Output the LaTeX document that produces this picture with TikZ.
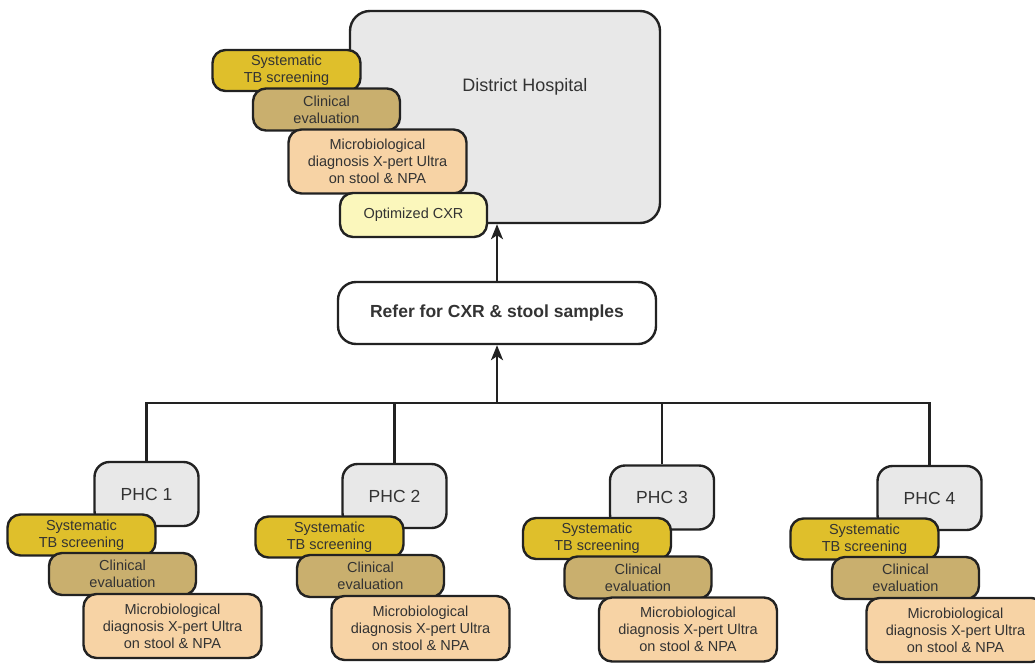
\documentclass[tikz,border=0pt]{standalone}
\usepackage{fontspec}
\setmainfont{Liberation Sans}
\usetikzlibrary{positioning,arrows.meta}

\definecolor{sitegray}{HTML}{E8E8E8}
\definecolor{screengold}{HTML}{DFBF2B}
\definecolor{clintan}{HTML}{C9AF6E}
\definecolor{micropeach}{HTML}{F7D3A5}
\definecolor{cxryellow}{HTML}{FBF7BC}
\definecolor{edgedark}{HTML}{222222}
\definecolor{txtdark}{HTML}{333333}

\tikzset{
  box/.style={draw=edgedark, line width=2.4pt, text=txtdark, align=center, inner sep=2pt},
  sitebox/.style={box, fill=sitegray, rounded corners=15pt, font=\fontsize{17.5}{20}\selectfont},
  smallbox/.style={box, rounded corners=13pt, font=\fontsize{14.5}{17}\selectfont},
  screenbox/.style={smallbox, fill=screengold, minimum width=148pt, minimum height=41pt},
  clinbox/.style={smallbox, fill=clintan, minimum width=147pt, minimum height=42pt},
  microbox/.style={smallbox, fill=micropeach, minimum width=178pt, minimum height=64pt},
  cxrbox/.style={smallbox, fill=cxryellow, minimum width=147pt, minimum height=44pt},
  referbox/.style={box, fill=white, rounded corners=18pt, minimum width=318pt, minimum height=62pt, font=\fontsize{17.5}{20}\selectfont\bfseries},
  link/.style={draw=edgedark, line width=2.3pt},
  uparrow/.style={link, -{Stealth[length=15pt, width=12pt, inset=4pt]}},
}

\begin{document}
\begin{tikzpicture}[x=1pt, y=-1pt, on grid]

        \useasboundingbox (0,0) rectangle (1035,664);

        % District hospital and its services
        \node[sitebox, minimum width=310pt, minimum height=212pt, rounded corners=20pt,
              label={[text=txtdark, font=\fontsize{18}{20}\selectfont, xshift=20pt, yshift=30pt]center:District Hospital}]
              (DH) at (505,117) {};
        \node[screenbox] (DHscreen) [above left=46.5pt and 218.5pt of DH] {Systematic\\TB screening};
        \node[clinbox] (DHclin) [above left=7.5pt and 178.5pt of DH] {Clinical\\evaluation};
        \node[microbox] (DHmicro) [below left=44.5pt and 127.5pt of DH] {Microbiological\\diagnosis X-pert Ultra\\on stool \& NPA};
        \node[cxrbox] (DHcxr) [below left=98pt and 91.5pt of DH] {Optimized CXR};

        % Referral
        \node[referbox] (refer) at (497,313) {Refer for CXR \& stool samples};

        % PHC 1
        \node[sitebox, minimum width=104pt, minimum height=64pt] (P1) at (146.5,494) {PHC 1};
        \node[screenbox] (S1) [below left=41pt and 65pt of P1] {Systematic\\TB screening};
        \node[clinbox] (C1) [below left=80pt and 24pt of P1] {Clinical\\evaluation};
        \node[microbox] (M1) [below right=132pt and 26pt of P1] {Microbiological\\diagnosis X-pert Ultra\\on stool \& NPA};

        % PHC 2
        \node[sitebox, minimum width=104pt, minimum height=64pt] (P2) at (394.5,496) {PHC 2};
        \node[screenbox] (S2) [below left=41pt and 65pt of P2] {Systematic\\TB screening};
        \node[clinbox] (C2) [below left=80pt and 24pt of P2] {Clinical\\evaluation};
        \node[microbox] (M2) [below right=132pt and 26pt of P2] {Microbiological\\diagnosis X-pert Ultra\\on stool \& NPA};

        % PHC 3
        \node[sitebox, minimum width=104pt, minimum height=64pt] (P3) at (662,497.5) {PHC 3};
        \node[screenbox] (S3) [below left=41pt and 65pt of P3] {Systematic\\TB screening};
        \node[clinbox] (C3) [below left=80pt and 24pt of P3] {Clinical\\evaluation};
        \node[microbox] (M3) [below right=132pt and 26pt of P3] {Microbiological\\diagnosis X-pert Ultra\\on stool \& NPA};

        % PHC 4
        \node[sitebox, minimum width=104pt, minimum height=64pt] (P4) at (929.5,498) {PHC 4};
        \node[screenbox] (S4) [below left=41pt and 65pt of P4] {Systematic\\TB screening};
        \node[clinbox] (C4) [below left=80pt and 24pt of P4] {Clinical\\evaluation};
        \node[microbox] (M4) [below right=132pt and 26pt of P4] {Microbiological\\diagnosis X-pert Ultra\\on stool \& NPA};

        % Collecting line
        \coordinate (hub) at (497,403);
        \draw[link, line cap=rect] (P1.north) |- (P4.north |- hub) -- (P4.north);
        \draw[link] (P2.north) -- (P2.north |- hub);
        \draw[link] (P3.north) -- (P3.north |- hub);

        % Arrows up
        \draw[uparrow] (hub) -- (refer.south);
        \draw[uparrow] (refer.north) -- (refer.north |- DH.south);

\end{tikzpicture}
\end{document}
